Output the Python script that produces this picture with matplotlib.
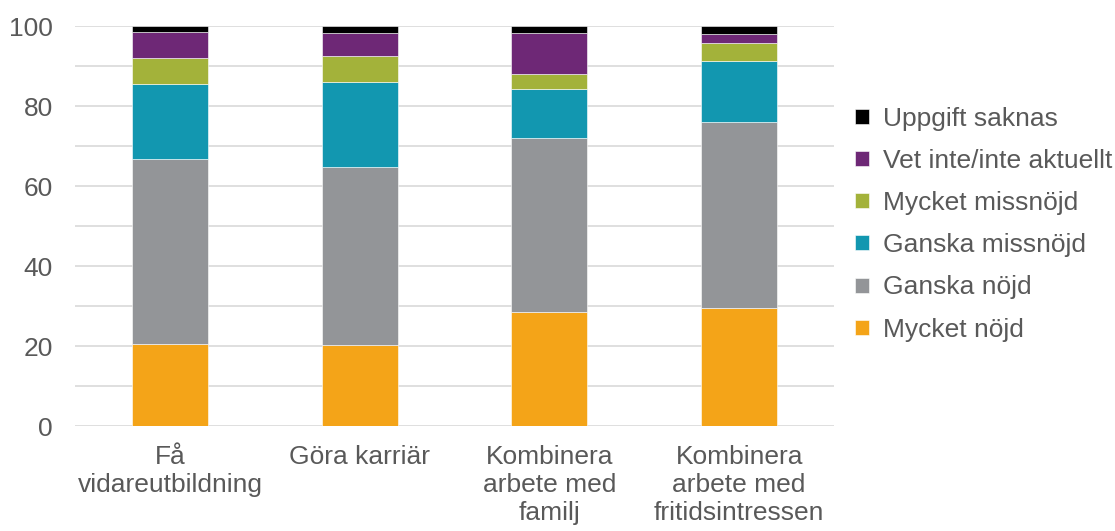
import matplotlib.pyplot as plt
import numpy as np

plt.rcParams['font.family'] = ['Liberation Sans', 'DejaVu Sans']

categories = ["Få\nvidareutbildning", "Göra karriär",
              "Kombinera\narbete med\nfamilj", "Kombinera\narbete med\nfritidsintressen"]
series_names = ["Mycket nöjd", "Ganska nöjd", "Ganska missnöjd",
                "Mycket missnöjd", "Vet inte/inte aktuellt", "Uppgift saknas"]
mycket_nojd = [20.5, 20.2, 28.4, 29.4]
ganska_nojd = [46.2, 44.5, 43.7, 46.5]
ganska_missnojd = [18.9, 21.3, 12.2, 15.4]
mycket_missnojd = [6.4, 6.5, 3.8, 4.4]
vet_inte = [6.4, 5.8, 10.2, 2.3]
uppgift_saknas = [1.6, 1.7, 1.7, 2.0]
colors = ["#F4A418", "#939598", "#1297B0", "#A3B23A", "#6E2876", "#000000"]

values = [mycket_nojd, ganska_nojd, ganska_missnojd, mycket_missnojd, vet_inte, uppgift_saknas]

fig = plt.figure(figsize=(11.15, 5.31), dpi=100)
ax = fig.add_axes([0.0673, 0.1977, 0.6807, 0.7533])

x = np.arange(len(categories))
bottom = np.zeros(len(categories))
handles = []
for name, vals, col in zip(series_names, values, colors):
    b = ax.bar(x, vals, 0.4, bottom=bottom, color=col, label=name,
               edgecolor="white", linewidth=0.4, zorder=3)
    handles.append(b)
    bottom += np.array(vals)

ax.set_xlim(-0.5, 3.5)
ax.set_ylim(0, 100)
ax.set_yticks(range(0, 101, 20))
ax.set_yticks(range(0, 101, 10), minor=True)
ax.grid(axis="y", which="both", color="#d9d9d9", linewidth=1.2, zorder=0)
ax.tick_params(axis="y", which="both", length=0, labelsize=19, labelcolor="#595959", pad=16)
ax.set_xticks(x)
ax.set_xticklabels(categories, fontsize=19, color="#595959", linespacing=1.2)
ax.tick_params(axis="x", length=0, pad=14)
for s in ax.spines.values():
    s.set_visible(False)

ax.legend(handles[::-1], series_names[::-1], loc="upper left", bbox_to_anchor=(0.997, 0.858),
          frameon=False, fontsize=19, labelcolor="#595959", handlelength=0.5,
          handleheight=0.5, handletextpad=0.55, labelspacing=0.69)

plt.savefig("out.png", dpi=100)
